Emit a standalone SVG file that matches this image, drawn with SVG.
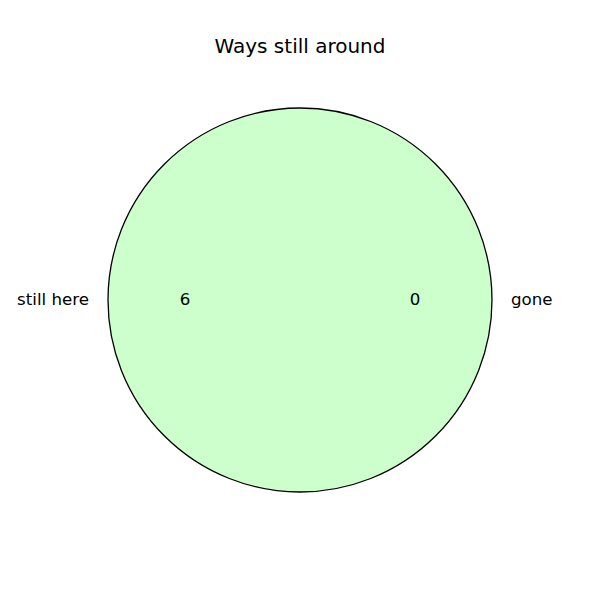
<svg xmlns="http://www.w3.org/2000/svg" width="600" height="600" viewBox="0 0 600 600">
<style>
text{font-family:"DejaVu Sans",sans-serif;fill:#000}
.t{font-size:20px}
.l{font-size:16.67px}
</style>
<rect width="600" height="600" fill="#fff"/>
<text class="t" x="300" y="53" text-anchor="middle">Ways still around</text>
<g id="pie">
<circle cx="300" cy="300" r="192" fill="#ccffcc" stroke="#000" stroke-width="1.3"/>
</g>
<g id="labels">
<text class="l" x="89" y="305" text-anchor="end">still here</text>
<text class="l" x="511" y="305">gone</text>
<text class="l" x="185" y="305" text-anchor="middle">6</text>
<text class="l" x="415" y="305" text-anchor="middle">0</text>
</g>
</svg>
